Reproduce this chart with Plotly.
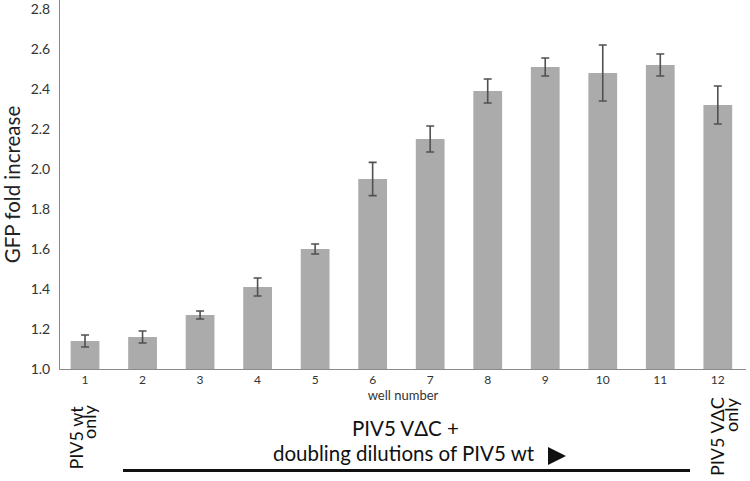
import plotly.graph_objects as go

wells = [1, 2, 3, 4, 5, 6, 7, 8, 9, 10, 11, 12]
gfp_fold = [1.14, 1.16, 1.27, 1.41, 1.60, 1.95, 2.15, 2.39, 2.51, 2.48, 2.52, 2.32]
gfp_err = [0.03, 0.03, 0.02, 0.045, 0.025, 0.083, 0.065, 0.06, 0.045, 0.14, 0.055, 0.095]
y_ticks = [1.0, 1.2, 1.4, 1.6, 1.8, 2.0, 2.2, 2.4, 2.6, 2.8]

FONT = "Lato"
L, T, PW, PH = 60, 0, 686, 369


def px(x):
    return (x - L) / PW


def py(y):
    return (T + PH - y) / PH


fig = go.Figure()
fig.add_trace(go.Bar(
    x=wells, y=gfp_fold, width=0.5,
    marker=dict(color="#ababab", line=dict(width=0)),
    error_y=dict(type="data", array=gfp_err, visible=True,
                 color="#505050", thickness=1.6, width=4),
))

fig.update_layout(
    width=750, height=481,
    margin=dict(l=L, r=750 - L - PW, t=T, b=481 - T - PH, autoexpand=False),
    paper_bgcolor="white", plot_bgcolor="white",
    showlegend=False,
    font=dict(family=FONT, color="#333333"),
)
fig.update_xaxes(
    range=[0.565, 12.49], tickmode="array", tickvals=wells,
    ticktext=[str(w) for w in wells], automargin=False,
    showline=True, linecolor="#8a8a8a", linewidth=1,
    showgrid=False, zeroline=False, ticks="", tickfont=dict(size=12, color="#333"),
    title=dict(text="well number", font=dict(size=13, color="#333"), standoff=0),
)
fig.update_yaxes(
    range=[1.0, 2.845], tickmode="array", tickvals=y_ticks,
    ticktext=[f"{v:.1f}" for v in y_ticks], automargin=False,
    showline=True, linecolor="#8a8a8a", linewidth=1,
    showgrid=False, zeroline=False, ticks="", ticklabelstandoff=6,
    ticklabeloverflow="allow",
    tickfont=dict(size=14, color="#333"),
    title=dict(text="GFP fold increase", font=dict(size=20.5, color="#222"), standoff=14),
)

rot_font = dict(family=FONT, size=18, color="#111")
# left rotated label
fig.add_annotation(text="PIV5 wt", xref="paper", yref="paper", x=px(75), y=py(437.5),
                   showarrow=False, textangle=-90, font=rot_font,
                   xanchor="center", yanchor="middle")
fig.add_annotation(text="only", xref="paper", yref="paper", x=px(89), y=py(422),
                   showarrow=False, textangle=-90, font=rot_font,
                   xanchor="center", yanchor="middle")
# right rotated label
fig.add_annotation(text="PIV5 VΔC", xref="paper", yref="paper", x=px(717), y=py(437),
                   showarrow=False, textangle=-90, font=rot_font,
                   xanchor="center", yanchor="middle")
fig.add_annotation(text="only", xref="paper", yref="paper", x=px(731), y=py(415),
                   showarrow=False, textangle=-90, font=rot_font,
                   xanchor="center", yanchor="middle")

ann_font = dict(family=FONT, size=20.5, color="#111")
fig.add_annotation(text="PIV5 VΔC +", xref="paper", yref="paper",
                   x=px(405), y=py(428), showarrow=False,
                   font=ann_font, xanchor="center", yanchor="middle")
fig.add_annotation(text="doubling dilutions of PIV5 wt", xref="paper", yref="paper",
                   x=px(404), y=py(453), showarrow=False,
                   font=ann_font, xanchor="center", yanchor="middle")

# arrow-head triangle
fig.add_shape(type="path", xref="paper", yref="paper",
              path=f"M {px(548)} {py(447)} L {px(566)} {py(456)} L {px(548)} {py(465)} Z",
              fillcolor="#111", line=dict(width=0))
fig.add_shape(type="line", xref="paper", yref="paper",
              x0=px(123), x1=px(690), y0=py(470.5), y1=py(470.5),
              line=dict(color="#111", width=3))

fig.write_html("out.html", config={"displayModeBar": False},
               post_script="document.body.style.margin='0';document.body.style.overflow='hidden';")
